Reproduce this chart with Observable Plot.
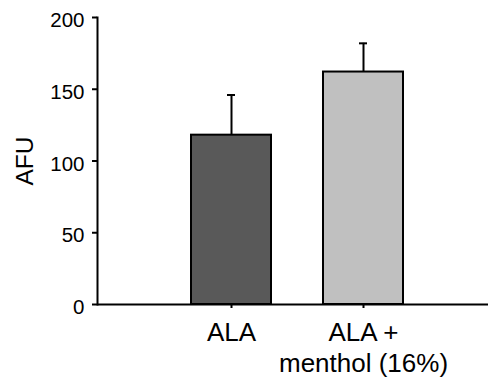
<!DOCTYPE html>
<html>
<head>
<meta charset="utf-8">
<script src="https://cdn.jsdelivr.net/npm/d3@7"></script>
<script src="https://cdn.jsdelivr.net/npm/@observablehq/plot@0.6"></script>
<style>
  html, body { margin: 0; padding: 0; background: #fff; }
</style>
</head>
<body>
<div id="chart"></div>
<script>
const categories = ["ALA", "ALA +\nmenthol (16%)"];
const means = [118, 162];
const upperErrors = [146, 182];
const barColors = ["#595959", "#c0c0c0"];
const yTicks = [0, 50, 100, 150, 200];
const yLabel = "AFU";

const data = categories.map((c, i) => ({
  cat: c, value: means[i], upper: upperErrors[i], color: barColors[i]
}));

const chart = Plot.plot({
  width: 488,
  height: 383,
  marginLeft: 97,
  marginRight: 0,
  marginTop: 17,
  marginBottom: 79,
  style: { fontFamily: "'Liberation Sans', Arial, sans-serif", color: "#000", background: "#fff" },
  x: { domain: categories, insetLeft: 67.5, insetRight: 58.5, paddingInner: 0.392, paddingOuter: 0.196 },
  y: { domain: [0, 200] },
  marks: [
    Plot.ruleX(data, { x: "cat", y1: "value", y2: "upper", stroke: "#000", strokeWidth: 2 }),
    Plot.tickY(data, { x: "cat", y: "upper", stroke: "#000", strokeWidth: 2, insetLeft: 36, insetRight: 36 }),
    Plot.barY(data, { x: "cat", y: "value", fill: "color", stroke: "#000", strokeWidth: 2 }),
    Plot.axisY({ ticks: yTicks, tickSize: 5, tickFormat: () => "", label: null, strokeWidth: 2 }),
    Plot.axisY({ ticks: yTicks, tickSize: 0, tickPadding: 13, fontSize: 20.5, label: null, dy: 3 }),
    Plot.frame({ anchor: "left", stroke: "#000", strokeWidth: 2 }),
    Plot.ruleY([0], { stroke: "#000", strokeWidth: 2 }),
    Plot.axisX({ tickSize: 4, tickPadding: 9.5, fontSize: 26, lineHeight: 1.22, label: null, strokeWidth: 2 }),
    Plot.text([yLabel], { frameAnchor: "left", textAnchor: "middle", dx: -72, dy: 0, rotate: -90, fontSize: 24.5, fill: "#000" })
  ]
});
document.getElementById("chart").appendChild(chart);
</script>
</body>
</html>
